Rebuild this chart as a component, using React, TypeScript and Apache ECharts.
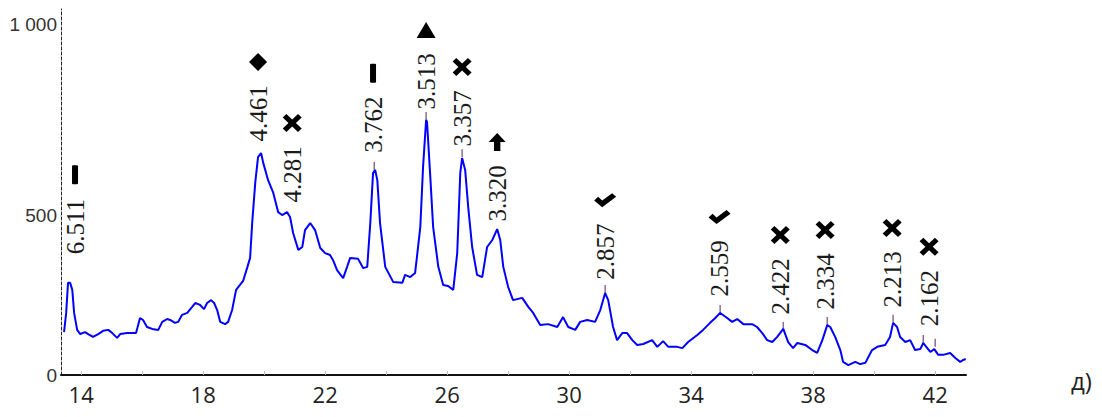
import React, { useEffect, useRef } from "react";
import * as echarts from "echarts";

// 2θ (deg) and intensity of the XRD pattern
const twoTheta = [
  13.44, 13.51, 13.57, 13.64, 13.71, 13.77, 13.87, 13.97, 14.13, 14.23, 14.39, 14.56, 14.72, 14.89, 15.02, 15.18, 15.28,
  15.51, 15.67, 15.8, 15.93, 16.03, 16.16, 16.33, 16.53, 16.66, 16.82, 16.92, 17.08, 17.18, 17.31, 17.48, 17.64, 17.74,
  17.9, 18.03, 18.13, 18.26, 18.36, 18.46, 18.56, 18.72, 18.82, 18.95, 19.08, 19.31, 19.44, 19.54, 19.61, 19.71, 19.8,
  19.9, 19.97, 20.13, 20.3, 20.46, 20.59, 20.75, 20.85, 20.95, 21.12, 21.25, 21.34, 21.51, 21.67, 21.84, 22.0, 22.16,
  22.26, 22.39, 22.59, 22.72, 22.82, 23.08, 23.25, 23.38, 23.48, 23.57, 23.64, 23.71, 23.8, 23.97, 24.23, 24.53, 24.62,
  24.79, 24.95, 25.12, 25.21, 25.31, 25.34, 25.44, 25.54, 25.71, 25.87, 26.03, 26.2, 26.33, 26.43, 26.49, 26.59, 26.69,
  26.82, 26.98, 27.15, 27.31, 27.48, 27.64, 27.74, 27.84, 28.0, 28.16, 28.46, 28.66, 28.82, 29.05, 29.31, 29.61, 29.8,
  29.97, 30.2, 30.36, 30.59, 30.85, 31.02, 31.18, 31.28, 31.44, 31.57, 31.74, 31.9, 32.07, 32.23, 32.43, 32.72, 32.89,
  33.08, 33.25, 33.54, 33.71, 33.9, 34.2, 34.39, 34.62, 34.79, 34.95, 35.18, 35.34, 35.51, 35.71, 36.0, 36.16, 36.33,
  36.49, 36.66, 36.82, 37.02, 37.18, 37.34, 37.48, 37.74, 37.97, 38.13, 38.3, 38.46, 38.56, 38.72, 38.89, 38.98, 39.15,
  39.38, 39.54, 39.71, 39.93, 40.1, 40.36, 40.52, 40.62, 40.75, 40.85, 41.02, 41.18, 41.34, 41.51, 41.61, 41.74, 41.84,
  41.97, 42.1, 42.26, 42.49, 42.66, 42.82, 42.92, 43.0,
];
const intensity = [
  134, 194, 288, 288, 266, 194, 141, 128, 134, 128, 119, 128, 138, 141, 131, 116, 128,
  131, 131, 131, 178, 172, 150, 144, 141, 166, 175, 172, 163, 166, 188, 194, 213, 225,
  219, 206, 225, 234, 225, 203, 166, 159, 166, 203, 266, 294, 334, 366, 478, 603, 681,
  694, 663, 609, 569, 509, 500, 509, 494, 444, 391, 400, 453, 475, 453, 397, 381, 375,
  359, 328, 303, 338, 366, 363, 334, 338, 475, 631, 641, 609, 475, 338, 291, 288, 313,
  306, 319, 463, 650, 797, 791, 631, 463, 338, 281, 278, 266, 381, 631, 678, 641, 525,
  400, 313, 306, 400, 422, 456, 422, 338, 275, 234, 241, 213, 194, 156, 159, 150, 181,
  150, 141, 166, 172, 166, 203, 256, 234, 150, 109, 131, 131, 109, 94, 97, 109, 88,
  106, 88, 88, 84, 103, 125, 141, 163, 178, 194, 178, 166, 175, 159, 159, 150, 131,
  109, 103, 119, 144, 103, 84, 100, 94, 78, 69, 109, 156, 150, 119, 78, 41, 31,
  41, 34, 38, 78, 88, 94, 119, 163, 150, 119, 103, 109, 78, 81, 100, 84, 72,
  81, 63, 63, 69, 53, 41, 47, 50,
];

// Peak annotations: d-spacing label, label anchor (2θ, intensity), phase marker
const peakLabels = ["6.511", "4.461", "4.281", "3.762", "3.513", "3.357", "3.320", "2.857", "2.559", "2.422", "2.334", "2.213", "2.162"];
const peakX = [13.8, 19.8, 20.92, 23.57, 25.31, 26.49, 27.64, 31.18, 34.93, 36.92, 38.39, 40.59, 41.8];
const peakY = [338, 691, 500, 656, 791, 675, 441, 259, 206, 150, 166, 172, 113];
const peakPhase = ["bar", "diamond", "cross", "bar", "triangle", "cross", "arrow", "check", "check", "cross", "cross", "cross", "cross"];

// small peak ticks (2θ, intensity)
const tickX = [23.61, 25.31, 26.49, 31.18, 34.95, 37.02, 38.46, 40.62, 41.61, 42.0];
const tickY = [641, 797, 681, 256, 194, 141, 156, 163, 100, 88];

const xLabelValues = [14, 18, 22, 26, 30, 34, 38, 42];
const xTickValues = [14, 16, 18, 20, 22, 24, 26, 28, 30, 32, 34, 36, 38, 40, 42];
const yLabelValues = [0, 500, 1094];
const yLabelTexts = ["0", "500", "1 000"];

const PHASE_SYMBOLS: Record<string, { symbol: string; size: number[] }> = {
  bar: { symbol: "path://M1,0 L5,0 Q6,0 6,1 L6,18 Q6,19 5,19 L1,19 Q0,19 0,18 L0,1 Q0,0 1,0 Z", size: [6, 19] },
  diamond: { symbol: "diamond", size: [18, 18] },
  cross: {
    symbol: "path://M3.5,0 L9,5.5 L14.5,0 L18,3.5 L12.5,9 L18,14.5 L14.5,18 L9,12.5 L3.5,18 L0,14.5 L5.5,9 L0,3.5 Z",
    size: [19, 18],
  },
  triangle: { symbol: "triangle", size: [19, 16] },
  arrow: { symbol: "path://M8,0 L16,9 L11,9 L11,18 L5,18 L5,9 L0,9 Z", size: [17, 18] },
  check: { symbol: "path://M0,8 L4,4 L8,8 L18,0 L22,4 L8,15 Z", size: [22, 14] },
};

export default function App() {
  const ref = useRef<HTMLDivElement>(null);

  useEffect(() => {
    if (!ref.current) return;
    const chart = echarts.init(ref.current, null, { renderer: "svg" });

    const lineData = twoTheta.map((x, i) => [x, intensity[i]]);
    const labelData = peakLabels.map((name, i) => ({ name, value: [peakX[i], peakY[i]] }));
    const markerData = peakPhase.map((p, i) => ({
      value: [peakX[i], peakY[i]],
      symbol: PHASE_SYMBOLS[p].symbol,
      symbolSize: PHASE_SYMBOLS[p].size,
    }));
    const tickData = tickX.map((x, i) => [x, tickY[i]]);

    chart.setOption({
      animation: false,
      backgroundColor: "#ffffff",
      grid: { left: 61, right: 136, top: 9, bottom: 42, containLabel: false },
      xAxis: {
        type: "value",
        min: 13.34,
        max: 43.01,
        axisLine: { show: true, onZero: false, lineStyle: { color: "#111", width: 2 } },
        axisTick: {
          show: true,
          inside: true,
          length: 4,
          customValues: xTickValues,
          lineStyle: { color: "#bbbbbb", width: 1 },
        },
        axisLabel: {
          customValues: xLabelValues,
          margin: 8,
          color: "#222",
          fontFamily: "Open Sans",
          fontSize: 22,
        },
        splitLine: { show: false },
      },
      yAxis: {
        type: "value",
        min: 0,
        max: 1144,
        axisLine: { show: true, lineStyle: { color: "#222", width: 1, type: [3, 2] } },
        axisTick: { show: false },
        axisLabel: {
          customValues: yLabelValues,
          formatter: (v: number) => {
            const idx = yLabelValues.indexOf(v);
            return idx >= 0 ? yLabelTexts[idx] : "";
          },
          margin: 4,
          color: "#333",
          fontFamily: "Liberation Sans",
          fontSize: 19,
        },
        splitLine: { show: false },
      },
      graphic: [
        {
          type: "text",
          left: 1071,
          top: 368,
          style: { text: "д)", fontFamily: "Open Sans", fontSize: 24, fill: "#222" },
        },
      ],
      series: [
        {
          type: "line",
          data: lineData,
          showSymbol: false,
          lineStyle: { color: "#0000ff", width: 2 },
          z: 3,
        },
        {
          type: "scatter",
          data: tickData,
          symbol: "rect",
          symbolSize: [1.5, 8],
          symbolOffset: [0, -4],
          itemStyle: { color: "#8c6d8c", opacity: 1 },
          z: 2,
        },
        {
          type: "scatter",
          data: labelData,
          symbol: "circle",
          symbolSize: 1,
          itemStyle: { color: "rgba(0,0,0,0)", opacity: 1 },
          label: {
            show: true,
            formatter: "{b}",
            position: "top",
            distance: 12,
            rotate: 90,
            align: "left",
            verticalAlign: "middle",
            color: "#1a1a1a",
            opacity: 1,
            fontFamily: "Liberation Serif",
            fontSize: 25,
          },
          z: 4,
        },
        {
          type: "scatter",
          data: markerData,
          symbolOffset: [0, -92],
          itemStyle: { color: "#000", opacity: 1 },
          z: 4,
        },
      ],
    });

    return () => chart.dispose();
  }, []);

  return (
    <div
      ref={ref}
      style={{ position: "fixed", left: 0, top: 0, width: 1102, height: 417, background: "#fff" }}
    />
  );
}
